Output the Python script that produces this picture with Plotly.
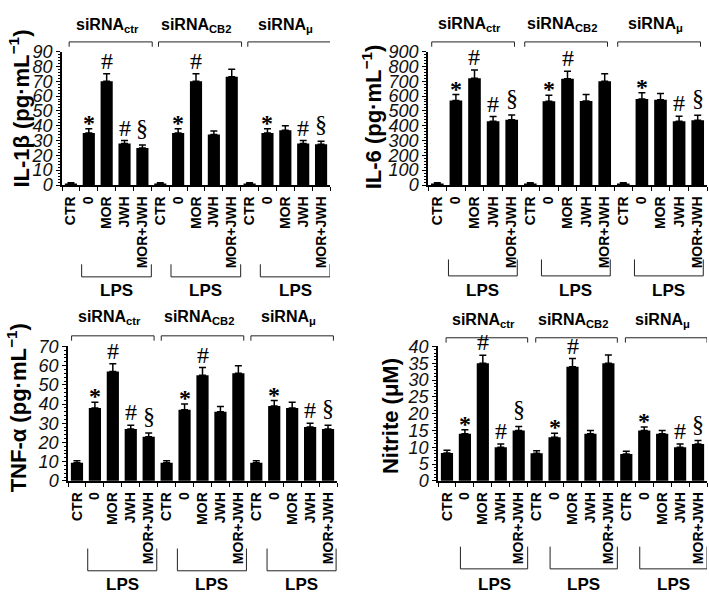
import plotly.graph_objects as go

W, H = 709, 604

# ---------------- data ----------------
conditions = ["CTR", "0", "MOR", "JWH", "MOR+JWH"]
groups = ["siRNA<sub>ctr</sub>", "siRNA<sub>CB2</sub>", "siRNA<sub>μ</sub>"]
categories = conditions * 3

il1b = [1, 35, 70, 28, 25, 1, 35, 70, 34, 73, 1, 35, 37, 28, 27.5]
il1b_err = [0.5, 3, 5, 2, 2, 0.5, 3, 5, 2.5, 5, 0.5, 3, 3, 2, 2]
il6 = [10, 570, 720, 430, 440, 10, 565, 717, 567, 700, 10, 580, 575, 430, 437]
il6_err = [5, 40, 55, 32, 33, 5, 40, 50, 43, 50, 5, 42, 42, 33, 33]
tnf = [9.5, 38, 57, 27, 23, 9.5, 37, 55, 36, 56, 9.5, 39, 38, 28, 27]
tnf_err = [1, 3, 4, 2, 2, 1, 3, 4, 2.8, 4, 1, 2.8, 3, 2, 2]
nitrite = [8.3, 14, 35, 10, 15, 8.2, 13, 34, 14, 35, 8, 15, 14, 10, 11]
nitrite_err = [0.8, 1.2, 2.4, 1, 1.2, 0.8, 1.2, 2.4, 1, 2.5, 0.8, 1, 1, 1, 1]
marks = ["", "*", "#", "#", "§", "", "*", "#", "", "", "", "*", "", "#", "§"]

FONT = "Liberation Sans, Arial, sans-serif"
SERIF = "Liberation Serif, Times New Roman, serif"


def px(p):
    return p / W


def py(p):
    return 1 - p / H


panels = [
    dict(vals=il1b, errs=il1b_err, title="IL-1β (pg·mL<sup>−1</sup>)",
         x0=62, x1=330, top=43, bot=181, ymax=90, dtick=10, minor=2,
         tx=19, ty=102, lab_y=16, br_y=33, top_br=(-0.1, 4.55),
         lps_br=(0.6, 4.5), lps_v=(263, 276), lps_y=290),
    dict(vals=il6, errs=il6_err, title="IL-6 (pg·mL<sup>−1</sup>)",
         x0=428, x1=707, top=43, bot=181, ymax=900, dtick=100, minor=20,
         tx=372, ty=111, lab_y=15, br_y=33, top_br=(-0.3, 4.15),
         lps_br=(0.6, 4.3), lps_v=(258, 275), lps_y=290),
    dict(vals=tnf, errs=tnf_err, title="TNF-α (pg·mL<sup>−1</sup>)",
         x0=68, x1=337, top=348, bot=487, ymax=70, dtick=10, minor=2,
         tx=17, ty=412, lab_y=318, br_y=337, top_br=(-0.3, 4.3),
         lps_br=(0.6, 4.45), lps_v=(557, 580), lps_y=594),
    dict(vals=nitrite, errs=nitrite_err, title="Nitrite (μM)",
         x0=438, x1=707, top=348, bot=487, ymax=40, dtick=5, minor=1,
         tx=390, ty=420, lab_y=321, br_y=339, top_br=(-0.05, 4.5),
         lps_br=(0.75, 4.5), lps_v=(555, 578), lps_y=594),
]

fig = go.Figure()
annotations = []
shapes = []
LINE = dict(color="#222", width=1)

for k, p in enumerate(panels):
    n = "" if k == 0 else str(k + 1)
    xa, ya = "x" + n, "y" + n
    xs = list(range(len(p["vals"])))
    fig.add_trace(go.Bar(
        x=xs, y=p["vals"], xaxis=xa, yaxis=ya, width=0.68,
        marker=dict(color="black", line=dict(width=0)),
        error_y=dict(type="data", array=p["errs"], arrayminus=[0] * len(xs),
                     symmetric=False, color="black", thickness=1.5, width=3.5),
        showlegend=False, hoverinfo="skip"))

    fig.layout["xaxis" + n] = dict(
        domain=[px(p["x0"]), px(p["x1"])], anchor=ya, range=[-0.5, 14.5],
        tickmode="array", tickvals=xs, ticktext=[f"<b>{c}</b>" for c in categories],
        tickangle=-90, tickfont=dict(family=FONT, size=14, color="black"),
        ticks="outside", ticklen=4, tickcolor="rgba(0,0,0,0)",
        minor=dict(tickmode="linear", tick0=-0.5, dtick=1, ticks="outside",
                   ticklen=4, tickcolor="black", tickwidth=1),
        showline=True, linecolor="black", linewidth=1.5,
        showgrid=False, zeroline=False, fixedrange=True)
    fig.layout["yaxis" + n] = dict(
        domain=[py(p["bot"]), py(p["top"])], anchor=xa, range=[0, p["ymax"]],
        tickmode="linear", tick0=0, dtick=p["dtick"],
        tickfont=dict(family=FONT, size=18, color="#111", style="italic"),
        ticks="outside", ticklen=4, tickcolor="black", tickwidth=1,
        minor=dict(tickmode="linear", tick0=0, dtick=p["minor"], ticks="outside",
                   ticklen=2, tickcolor="black", tickwidth=1),
        showline=True, linecolor="black", linewidth=1.5,
        showgrid=False, zeroline=False, fixedrange=True)

    # y title
    annotations.append(dict(
        text=f"<b>{p['title']}</b>", x=px(p["tx"]), y=py(p["ty"]),
        xref="paper", yref="paper", textangle=-90, showarrow=False,
        xanchor="center", yanchor="middle",
        font=dict(family=FONT, size=22, color="black")))

    # significance marks
    for i, m in enumerate(marks):
        if not m:
            continue
        shift = {"*": -9, "#": -2, "§": 2}[m]
        txt = "<b>*</b>" if m == "*" else m
        annotations.append(dict(
            text=txt, x=i, y=p["vals"][i] + p["errs"][i], xref=xa, yref=ya,
            xanchor="center", yanchor="bottom", yshift=shift, showarrow=False,
            font=dict(family=SERIF, size=24, color="black")))

    # group brackets
    for g, gname in enumerate(groups):
        i0 = g * 5
        a, b = i0 + p["top_br"][0], i0 + p["top_br"][1]
        y1 = py(p["br_y"])
        y2 = py(p["br_y"] + 5)
        shapes += [
            dict(type="line", xref=xa, yref="paper", x0=a, x1=b, y0=y1, y1=y1, line=LINE),
            dict(type="line", xref=xa, yref="paper", x0=a, x1=a, y0=y1, y1=y2, line=LINE),
            dict(type="line", xref=xa, yref="paper", x0=b, x1=b, y0=y1, y1=y2, line=LINE),
        ]
        annotations.append(dict(
            text=f"<b>{gname}</b>", x=(a + b) / 2 - 0.2, y=py(p["lab_y"]),
            xref=xa, yref="paper", showarrow=False, xanchor="center", yanchor="middle",
            font=dict(family=FONT, size=16, color="black")))

        c, d = i0 + p["lps_br"][0], i0 + p["lps_br"][1]
        v0, v1 = py(p["lps_v"][0]), py(p["lps_v"][1])
        shapes += [
            dict(type="line", xref=xa, yref="paper", x0=c, x1=d, y0=v1, y1=v1, line=LINE),
            dict(type="line", xref=xa, yref="paper", x0=c, x1=c, y0=v0, y1=v1, line=LINE),
            dict(type="line", xref=xa, yref="paper", x0=d, x1=d, y0=v0, y1=v1, line=LINE),
        ]
        annotations.append(dict(
            text="<b>LPS</b>", x=(c + d) / 2, y=py(p["lps_y"]),
            xref=xa, yref="paper", showarrow=False, xanchor="center", yanchor="middle",
            font=dict(family=FONT, size=17, color="black")))

fig.update_layout(
    width=W, height=H, margin=dict(l=0, r=0, t=0, b=0),
    paper_bgcolor="white", plot_bgcolor="white",
    annotations=annotations, shapes=shapes, bargap=0.3)

fig.write_html(
    "out.html",
    config={"displayModeBar": False},
    post_script="document.body.style.margin='0';document.body.style.overflow='hidden';")
